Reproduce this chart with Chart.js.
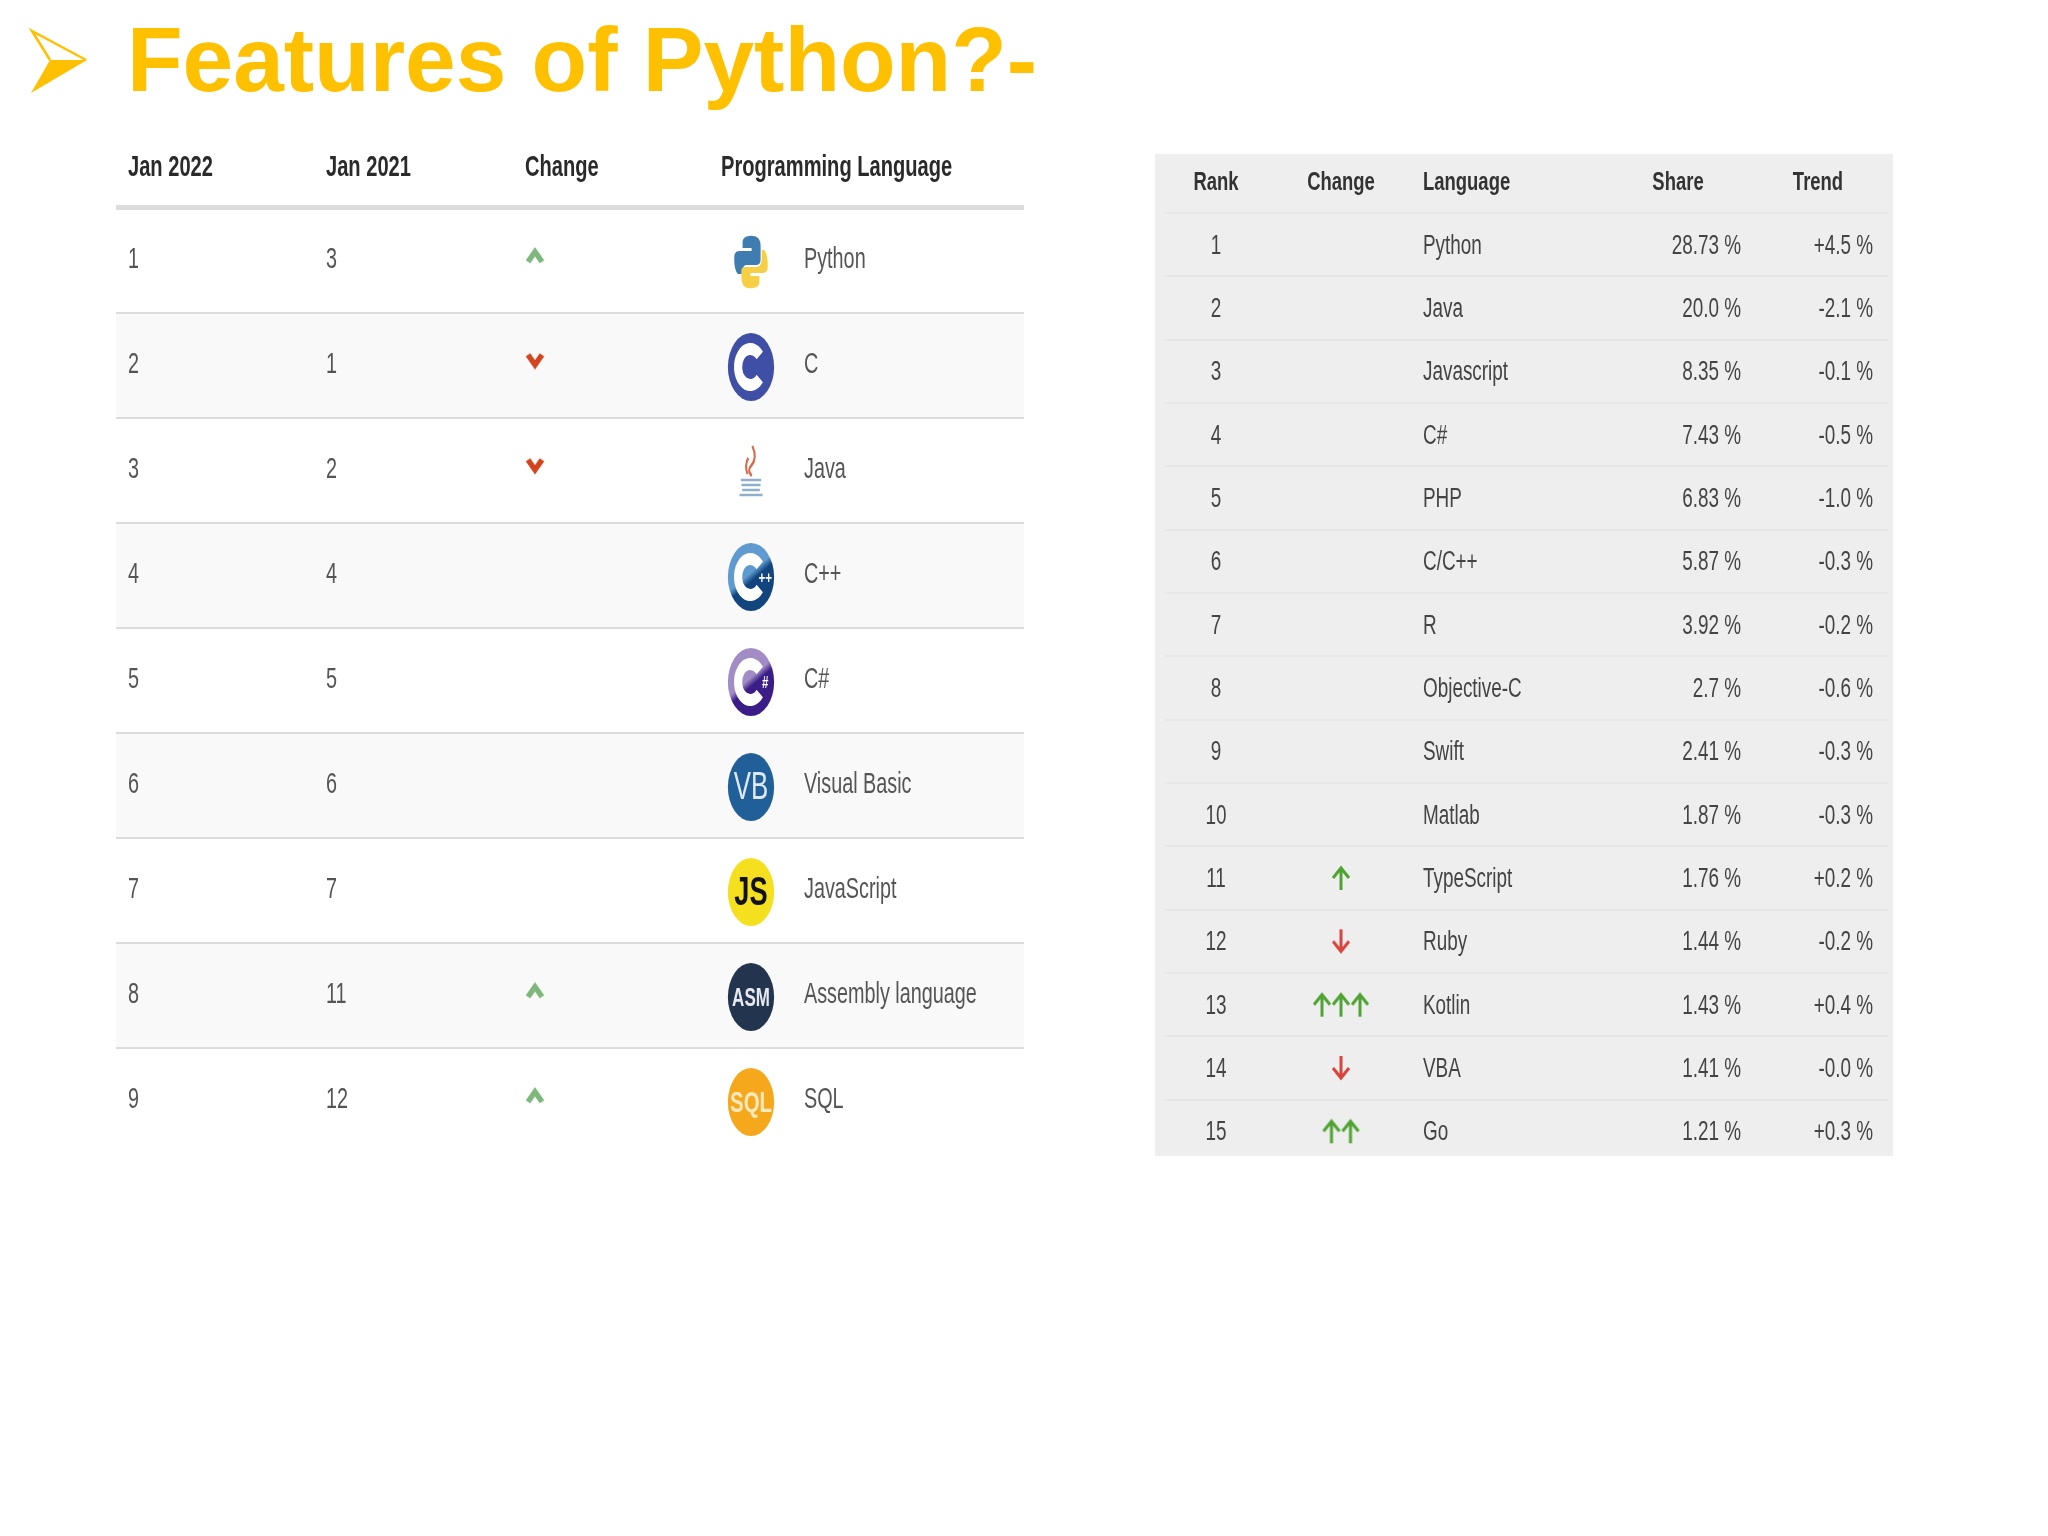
<!DOCTYPE html>
<html>
<head>
<meta charset="utf-8">
<title>Features of Python?-</title>
<script src="https://cdn.jsdelivr.net/npm/chart.js@4/dist/chart.umd.min.js"></script>
<style>
  html, body { margin: 0; padding: 0; background: #fff; }
  #page { position: relative; width: 2048px; height: 1536px; overflow: hidden; }
  canvas { position: absolute; }
</style>
</head>
<body>
<div id="page">
  <canvas id="leftTable" width="1140" height="1200" style="left:0;top:0"></canvas>
  <!-- 12px bigger than the grey panel on each side, Chart.js keeps that room for point overflow -->
  <canvas id="rightTable" width="762" height="1026" style="left:1143px;top:142px"></canvas>
</div>
<script>
// left table
const leftHeaders = ['Jan 2022', 'Jan 2021', 'Change', 'Programming Language'];
const jan2022 = [1, 2, 3, 4, 5, 6, 7, 8, 9];
const jan2021 = [3, 1, 2, 4, 5, 6, 7, 11, 12];
const leftChange = [1, -1, -1, 0, 0, 0, 0, 1, 1];
const leftLanguages = ['Python', 'C', 'Java', 'C++', 'C#', 'Visual Basic', 'JavaScript', 'Assembly language', 'SQL'];

// right table
const rightHeaders = ['Rank', 'Change', 'Language', 'Share', 'Trend'];
const ranks = [1, 2, 3, 4, 5, 6, 7, 8, 9, 10, 11, 12, 13, 14, 15];
const rankChange = [0, 0, 0, 0, 0, 0, 0, 0, 0, 0, 1, -1, 3, -1, 2];
const rightLanguages = ['Python', 'Java', 'Javascript', 'C#', 'PHP', 'C/C++', 'R', 'Objective-C', 'Swift', 'Matlab', 'TypeScript', 'Ruby', 'Kotlin', 'VBA', 'Go'];
const shares = ['28.73 %', '20.0 %', '8.35 %', '7.43 %', '6.83 %', '5.87 %', '3.92 %', '2.7 %', '2.41 %', '1.87 %', '1.76 %', '1.44 %', '1.43 %', '1.41 %', '1.21 %'];
const trends = ['+4.5 %', '-2.1 %', '-0.1 %', '-0.5 %', '-1.0 %', '-0.3 %', '-0.2 %', '-0.6 %', '-0.3 %', '-0.3 %', '+0.2 %', '-0.2 %', '+0.4 %', '-0.0 %', '+0.3 %'];

const SANS = '"Liberation Sans", Arial, sans-serif';
const SQUEEZE = 0.66; // the source tables are stretched vertically

// x scale of each chart is in table pixels
const leftCols = { jan22: 12, jan21: 210, change: 419, name: 605, icon: 635, iconText: 688 };
const rightCols = { rank: 51, change: 176, name: 258, share: 576, trend: 708, shareHead: 513, trendHead: 653 };

function label(ctx, str, x, y, align, font, color, sx) {
  ctx.save();
  ctx.translate(x, y);
  ctx.scale(sx === undefined ? SQUEEZE : sx, 1);
  ctx.font = font;
  ctx.textAlign = align;
  ctx.textBaseline = 'middle';
  ctx.fillStyle = color;
  ctx.fillText(str, 0, 0);
  ctx.restore();
}

function chevronCanvas(dir) {
  const c = document.createElement('canvas');
  c.width = 20; c.height = 20;
  const g = c.getContext('2d');
  g.strokeStyle = dir > 0 ? '#7db77c' : '#d2451e';
  g.lineWidth = 5.5;
  g.lineJoin = 'miter';
  g.beginPath();
  if (dir > 0) { g.moveTo(3, 16); g.lineTo(10, 6); g.lineTo(17, 16); }
  else { g.moveTo(3, 4); g.lineTo(10, 14); g.lineTo(17, 4); }
  g.stroke();
  return c;
}

function arrowCanvas(dir) {
  const c = document.createElement('canvas');
  c.width = 20; c.height = 26;
  const g = c.getContext('2d');
  g.strokeStyle = dir > 0 ? '#4fa332' : '#d9443c';
  g.lineWidth = 3;
  g.beginPath();
  if (dir > 0) { g.moveTo(10, 25); g.lineTo(10, 4); g.moveTo(2, 13); g.lineTo(10, 3); g.lineTo(18, 13); }
  else { g.moveTo(10, 1); g.lineTo(10, 22); g.moveTo(2, 13); g.lineTo(10, 23); g.lineTo(18, 13); }
  g.stroke();
  return c;
}

const leftPoints = [];
leftChange.forEach((d, i) => {
  if (d !== 0) leftPoints.push({ x: leftCols.change, y: i + 0.96, style: chevronCanvas(d) });
});

const rightPoints = [];
rankChange.forEach((d, i) => {
  const n = Math.abs(d);
  for (let k = 0; k < n; k++) {
    rightPoints.push({ x: rightCols.change + (k - (n - 1) / 2) * 19, y: i + 1, style: arrowCanvas(d) });
  }
});

// ring logos (C, C++, C#), unit is a circle of r=34 squeezed in x
function ringLogo(ctx, top, bottom, extra) {
  const grad = ctx.createLinearGradient(-20, -34, 20, 34);
  grad.addColorStop(0.45, top);
  grad.addColorStop(0.55, bottom);
  ctx.fillStyle = grad;
  ctx.beginPath(); ctx.arc(0, 0, 34, 0, Math.PI * 2); ctx.fill();
  ctx.strokeStyle = '#fff';
  ctx.lineWidth = 12;
  ctx.beginPath(); ctx.arc(-1, 0, 18, Math.PI * 0.22, Math.PI * 1.78); ctx.stroke();
  if (extra) {
    ctx.fillStyle = '#fff';
    ctx.font = 'bold 17px ' + SANS;
    ctx.textAlign = 'center';
    ctx.textBaseline = 'middle';
    ctx.fillText(extra, 21, 1);
  }
}

function badge(ctx, fill, text, textColor, font) {
  ctx.fillStyle = fill;
  ctx.beginPath(); ctx.arc(0, 0, 34, 0, Math.PI * 2); ctx.fill();
  ctx.fillStyle = textColor;
  ctx.font = font + ' ' + SANS;
  ctx.textAlign = 'center';
  ctx.textBaseline = 'middle';
  ctx.fillText(text, 0, 2);
}

function pythonLogo(ctx) {
  ctx.fillStyle = '#3f7cb0';
  ctx.beginPath();
  ctx.moveTo(-4, -26);
  ctx.quadraticCurveTo(16, -28, 16, -16);
  ctx.lineTo(16, -2);
  ctx.quadraticCurveTo(16, 3, 8, 3);
  ctx.lineTo(-8, 3);
  ctx.quadraticCurveTo(-14, 3, -14, 10);
  ctx.lineTo(-14, 12);
  ctx.lineTo(-22, 12);
  ctx.quadraticCurveTo(-28, 8, -28, -4);
  ctx.quadraticCurveTo(-28, -11, -20, -11);
  ctx.lineTo(1, -11);
  ctx.lineTo(1, -14);
  ctx.lineTo(-14, -14);
  ctx.lineTo(-14, -20);
  ctx.quadraticCurveTo(-14, -25, -4, -26);
  ctx.fill();
  ctx.fillStyle = '#f6cf45';
  ctx.beginPath();
  ctx.moveTo(4, 26);
  ctx.quadraticCurveTo(-16, 28, -16, 16);
  ctx.lineTo(-16, 8);
  ctx.quadraticCurveTo(-16, 5, -8, 5);
  ctx.lineTo(8, 5);
  ctx.quadraticCurveTo(18, 5, 18, -4);
  ctx.lineTo(18, -12);
  ctx.lineTo(22, -12);
  ctx.quadraticCurveTo(28, -8, 28, 4);
  ctx.quadraticCurveTo(28, 11, 20, 11);
  ctx.lineTo(-1, 11);
  ctx.lineTo(-1, 14);
  ctx.lineTo(14, 14);
  ctx.lineTo(14, 20);
  ctx.quadraticCurveTo(14, 25, 4, 26);
  ctx.fill();
}

function javaLogo(ctx) {
  ctx.strokeStyle = '#d9694a';
  ctx.lineWidth = 3;
  ctx.beginPath();
  ctx.moveTo(2, -26);
  ctx.quadraticCurveTo(10, -14, 0, -6);
  ctx.quadraticCurveTo(-6, -2, 1, 4);
  ctx.moveTo(-4, -14);
  ctx.quadraticCurveTo(-10, -6, -5, 2);
  ctx.stroke();
  ctx.strokeStyle = '#8fb0c8';
  ctx.lineWidth = 2.5;
  [[8, 15], [13, 14], [18, 13], [23, 17]].forEach(([y, w]) => {
    ctx.beginPath(); ctx.moveTo(-w, y); ctx.lineTo(w, y); ctx.stroke();
  });
}

function drawIcon(ctx, name, x, y) {
  ctx.save();
  ctx.translate(x, y);
  ctx.scale(name === 'Python' ? 0.6 : 0.68, 1);
  if (name === 'Python') pythonLogo(ctx);
  else if (name === 'C') ringLogo(ctx, '#3f4fa6', '#3f4fa6', null);
  else if (name === 'Java') javaLogo(ctx);
  else if (name === 'C++') ringLogo(ctx, '#5f9bd0', '#12457e', '++');
  else if (name === 'C#') ringLogo(ctx, '#a18cc6', '#3a1d86', '#');
  else if (name === 'Visual Basic') badge(ctx, '#215f99', 'VB', '#dfe9f3', '38px');
  else if (name === 'JavaScript') badge(ctx, '#f4e01e', 'JS', '#111', 'bold 40px');
  else if (name === 'Assembly language') badge(ctx, '#23344f', 'ASM', '#e6e9ee', 'bold 25px');
  else if (name === 'SQL') badge(ctx, '#f5a81c', 'SQL', '#fde9bd', 'bold 30px');
  ctx.restore();
}

const leftPlugin = {
  id: 'leftPlugin',
  beforeDraw(chart) {
    const ctx = chart.ctx, { left, right } = chart.chartArea, ys = chart.scales.y;
    ctx.fillStyle = '#f9f9f9';
    jan2022.forEach((r, i) => {
      if (i % 2 === 1) {
        const top = ys.getPixelForValue(i + 0.5), bot = ys.getPixelForValue(i + 1.5);
        ctx.fillRect(left, top, right - left, bot - top);
      }
    });
    // slide heading
    ctx.fillStyle = '#ffc000';
    ctx.beginPath();
    ctx.moveTo(31, 93); ctx.lineTo(50, 60); ctx.lineTo(87, 60); ctx.closePath();
    ctx.fill();
    ctx.strokeStyle = '#ffc000';
    ctx.lineWidth = 2.5;
    ctx.beginPath();
    ctx.moveTo(50, 60); ctx.lineTo(32, 31); ctx.lineTo(86, 60);
    ctx.stroke();
    label(ctx, 'Features of Python?-', 127, 66, 'left', 'bold 91px ' + SANS, '#ffc000', 1);
  },
  afterDatasetsDraw(chart) {
    const ctx = chart.ctx, xs = chart.scales.x, ys = chart.scales.y;
    const px = v => xs.getPixelForValue(v);
    const head = 'bold 30px ' + SANS, body = '30px ' + SANS, color = '#555';
    const headY = ys.getPixelForValue(0.12);
    [leftCols.jan22, leftCols.jan21, leftCols.change - 10, leftCols.name].forEach((x, i) => {
      label(ctx, leftHeaders[i], px(x), headY, 'left', head, '#2a2a2a', 0.67);
    });
    jan2022.forEach((r, i) => {
      const y = ys.getPixelForValue(i + 1);
      label(ctx, String(r), px(leftCols.jan22), y, 'left', body, color);
      label(ctx, String(jan2021[i]), px(leftCols.jan21), y, 'left', body, color);
      drawIcon(ctx, leftLanguages[i], px(leftCols.icon), y + 2);
      label(ctx, leftLanguages[i], px(leftCols.iconText), y, 'left', body, color);
    });
  }
};

const rightPlugin = {
  id: 'rightPlugin',
  beforeDraw(chart) {
    chart.ctx.fillStyle = '#eeeeee';
    chart.ctx.fillRect(12, 12, chart.width - 24, chart.height - 24);
  },
  afterDatasetsDraw(chart) {
    const ctx = chart.ctx, xs = chart.scales.x, ys = chart.scales.y;
    const px = v => xs.getPixelForValue(v);
    const head = 'bold 26px ' + SANS, body = '27px ' + SANS, color = '#444';
    const headY = ys.getPixelForValue(0) + 1.5;
    label(ctx, rightHeaders[0], px(rightCols.rank), headY, 'center', head, '#333', 0.71);
    label(ctx, rightHeaders[1], px(rightCols.change), headY, 'center', head, '#333', 0.71);
    label(ctx, rightHeaders[2], px(rightCols.name), headY, 'left', head, '#333', 0.71);
    label(ctx, rightHeaders[3], px(rightCols.shareHead), headY, 'center', head, '#333', 0.71);
    label(ctx, rightHeaders[4], px(rightCols.trendHead), headY, 'center', head, '#333', 0.71);
    ranks.forEach((r, i) => {
      const y = ys.getPixelForValue(i + 1) + 1.5;
      label(ctx, String(r), px(rightCols.rank), y, 'center', body, color, 0.7);
      label(ctx, rightLanguages[i], px(rightCols.name), y, 'left', body, color, 0.7);
      label(ctx, shares[i], px(rightCols.share), y, 'right', body, color, 0.7);
      label(ctx, trends[i], px(rightCols.trend), y, 'right', body, color, 0.7);
    });
  }
};

function tableOptions(padding, xMax, yMin, yMax, boundaries, gridColor, gridWidth) {
  return {
    responsive: false,
    animation: false,
    events: [],
    layout: { padding },
    plugins: { legend: { display: false }, tooltip: { enabled: false } },
    scales: {
      x: { type: 'linear', display: false, bounds: 'data', min: 0, max: xMax },
      y: {
        type: 'linear',
        bounds: 'data',
        reverse: true,
        min: yMin,
        max: yMax,
        afterBuildTicks: axis => { axis.ticks = boundaries.map(value => ({ value })); },
        ticks: { display: false },
        border: { display: false },
        grid: { drawTicks: false, color: gridColor, lineWidth: gridWidth }
      }
    }
  };
}

new Chart(document.getElementById('leftTable'), {
  type: 'scatter',
  data: { datasets: [{
    label: 'Change',
    data: leftPoints,
    pointStyle: leftPoints.map(p => p.style),
    pointRadius: 10
  }] },
  options: tableOptions(
    { left: 116, right: 116, top: 102.5, bottom: 47.5 }, 908, -0.5, 9.5,
    jan2022.map((r, i) => i + 0.5),
    '#dcdcdc',
    ctx => (ctx.tick && ctx.tick.value === 0.5 ? 5 : 2)
  ),
  plugins: [leftPlugin]
});

new Chart(document.getElementById('rightTable'), {
  type: 'scatter',
  data: { datasets: [{
    label: 'Change',
    data: rightPoints,
    pointStyle: rightPoints.map(p => p.style),
    pointRadius: 10
  }] },
  options: tableOptions(
    { left: 22, right: 17, top: 12, bottom: 12 }, 723, -0.431, 15.39,
    ranks.map((r, i) => i + 0.5),
    '#e7e7e7',
    2
  ),
  plugins: [rightPlugin]
});
</script>
</body>
</html>
